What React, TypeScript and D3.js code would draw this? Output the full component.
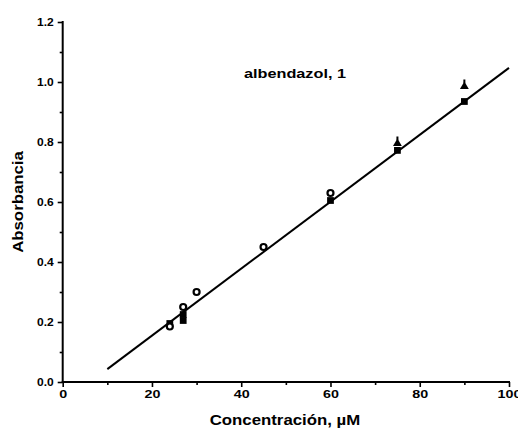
import { useRef, useEffect } from 'react';
import * as d3 from 'd3';

const xTicks = [0, 20, 40, 60, 80, 100];
const xMinor = [10, 30, 50, 70, 90];
const yTicks = [0.0, 0.2, 0.4, 0.6, 0.8, 1.0, 1.2];
const yMinor = [0.1, 0.3, 0.5, 0.7, 0.9, 1.1];

// open circles
const circleX = [24, 27, 30, 45, 60];
const circleY = [0.185, 0.25, 0.3, 0.45, 0.63];
// filled squares
const squareX = [24, 27, 27, 60, 75, 90];
const squareY = [0.195, 0.225, 0.205, 0.605, 0.772, 0.935];
// filled triangles
const triX = [75, 90];
const triY = [0.795, 0.985];

// regression line end points
const fitX = [10, 100];
const fitY = [0.043, 1.047];

const W = 518;
const H = 432;

export default function App() {
  const svgRef = useRef<SVGSVGElement>(null);

  useEffect(() => {
    if (!svgRef.current) return;
    const svg = d3.select(svgRef.current);
    svg.selectAll('*').remove();

    const x = d3.scaleLinear().domain([0, 100]).range([62.7, 509]);
    const y = d3.scaleLinear().domain([0, 1.2]).range([382, 22]);
    const font = '"Liberation Sans", Arial, sans-serif';

    // stretch text horizontally like the scanned original
    const stretch = (sel: d3.Selection<SVGTextElement, any, any, any>, k: number) => {
      sel.each(function () {
        const len = this.getComputedTextLength();
        d3.select(this).attr('textLength', len * k).attr('lengthAdjust', 'spacingAndGlyphs');
      });
    };

    // minor ticks (separate groups so the axis joins don't clash)
    svg.append('g')
      .attr('transform', `translate(0,${y(0)})`)
      .call(d3.axisBottom(x).tickValues(xMinor).tickSize(3).tickFormat(() => ''))
      .call((g) => g.select('.domain').remove())
      .selectAll('line').attr('stroke-width', 1.6);
    svg.append('g')
      .attr('transform', `translate(${x(0)},0)`)
      .call(d3.axisLeft(y).tickValues(yMinor).tickSize(3).tickFormat(() => ''))
      .call((g) => g.select('.domain').remove())
      .selectAll('line').attr('stroke-width', 1.6);

    // X axis
    const gx = svg.append('g').attr('transform', `translate(0,${y(0)})`);
    gx.call(d3.axisBottom(x).tickValues(xTicks).tickSize(5).tickFormat(d3.format('d')));
    gx.selectAll('.domain').attr('stroke-width', 2).attr('d', `M${x(0) - 1},0H${x(100) + 1}`);
    gx.selectAll('line').attr('stroke-width', 1.6);
    gx.selectAll<SVGTextElement, any>('text')
      .attr('font-family', font)
      .attr('font-weight', 'bold')
      .attr('font-size', 11)
      .attr('y', 8)
      .call(stretch, 1.3);

    // Y axis
    const gy = svg.append('g').attr('transform', `translate(${x(0)},0)`);
    gy.call(d3.axisLeft(y).tickValues(yTicks).tickSize(5).tickFormat(d3.format('.1f')));
    gy.selectAll('.domain').attr('stroke-width', 2).attr('d', `M0,${y(0) + 1}V${y(1.2) - 1}`);
    gy.selectAll('line').attr('stroke-width', 1.6);
    gy.selectAll<SVGTextElement, any>('text')
      .attr('font-family', font)
      .attr('font-weight', 'bold')
      .attr('font-size', 10)
      .attr('x', -9)
      .call(stretch, 1.2);

    // fit line
    const line = d3.line<number>()
      .x((d) => x(d))
      .y((_, i) => y(fitY[i]));
    svg.append('path')
      .datum(fitX)
      .attr('fill', 'none')
      .attr('stroke', '#000')
      .attr('stroke-width', 2)
      .attr('d', line);

    // squares
    const sq = d3.symbol().type(d3.symbolSquare).size(46);
    svg.append('g')
      .selectAll('path')
      .data(squareX.map((v, i) => [v, squareY[i]]))
      .join('path')
      .attr('transform', (d) => `translate(${x(d[0])},${y(d[1])})`)
      .attr('d', sq)
      .attr('fill', '#000');

    // triangles
    const tri = d3.symbol().type(d3.symbolTriangle).size(34);
    const tg = svg.append('g')
      .selectAll('g')
      .data(triX.map((v, i) => [v, triY[i]]))
      .join('g')
      .attr('transform', (d) => `translate(${x(d[0])},${y(d[1])})`);
    tg.append('path').attr('d', tri).attr('fill', '#000');
    tg.append('line').attr('y1', -3).attr('y2', -7).attr('stroke', '#000').attr('stroke-width', 2);

    // open circles
    svg.append('g')
      .selectAll('circle')
      .data(circleX.map((v, i) => [v, circleY[i]]))
      .join('circle')
      .attr('cx', (d) => x(d[0]))
      .attr('cy', (d) => y(d[1]))
      .attr('r', 3)
      .attr('fill', '#fff')
      .attr('stroke', '#000')
      .attr('stroke-width', 2.2);

    // labels
    svg.append('text')
      .attr('x', 295)
      .attr('y', 78)
      .attr('text-anchor', 'middle')
      .attr('font-family', font)
      .attr('font-weight', 'bold')
      .attr('font-size', 13)
      .text('albendazol, 1')
      .call(stretch, 1.25);

    svg.append('text')
      .attr('x', 285)
      .attr('y', 425)
      .attr('text-anchor', 'middle')
      .attr('font-family', font)
      .attr('font-weight', 'bold')
      .attr('font-size', 15)
      .text('Concentración, µM')
      .call(stretch, 1.12);

    svg.append('text')
      .attr('transform', `translate(23,${202}) rotate(-90)`)
      .attr('text-anchor', 'middle')
      .attr('font-family', font)
      .attr('font-weight', 'bold')
      .attr('font-size', 15)
      .text('Absorbancia')
      .call(stretch, 1.12);
  }, []);

  return (
    <svg
      ref={svgRef}
      width={W}
      height={H}
      style={{ position: 'absolute', left: 0, top: 0, background: '#fff' }}
    />
  );
}
